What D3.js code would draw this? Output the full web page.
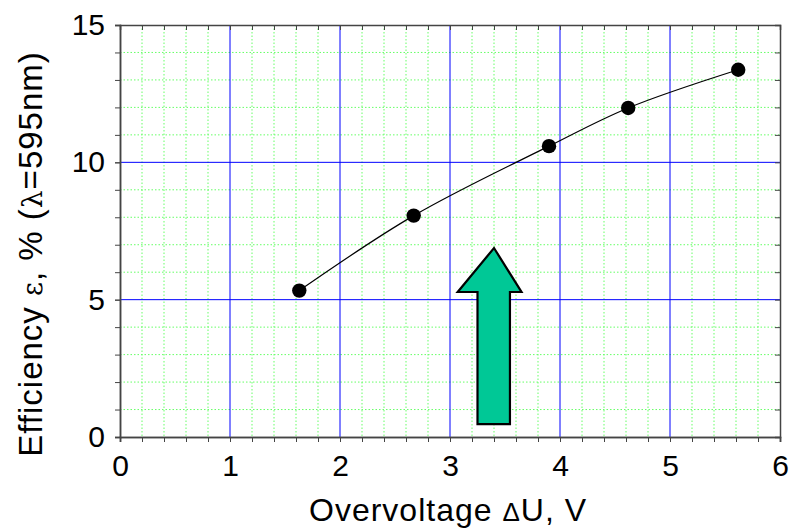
<!DOCTYPE html>
<html>
<head>
<meta charset="utf-8">
<script src="https://cdn.jsdelivr.net/npm/d3@7"></script>
<style>
  body { margin: 0; background: white; }
  text { font-family: "Liberation Sans", Arial, sans-serif; }
</style>
</head>
<body>
<div class="board"></div>
<script>
var W = 792, H = 531
var margin = { top: 25, right: 12, bottom: 94, left: 120 },
    width = W - margin.left - margin.right,
    height = H - margin.top - margin.bottom

// measured points
let voltage = [1.63, 2.67, 3.9, 4.62, 5.62]
let efficiency = [5.33, 8.06, 10.59, 11.98, 13.37]

let xTicks = [0, 1, 2, 3, 4, 5, 6]
let yTicks = [0, 5, 10, 15]

// arrow annotation (data units)
let arrowX = [3.07, 3.25, 3.545, 3.65, 3.4]
let arrowY = [0.47, 5.28, 6.88]

var svg = d3.select(".board")
    .append("svg")
    .attr("width", W)
    .attr("height", H)

var g = svg.append("g")
    .attr("transform", `translate(${margin.left}, ${margin.top})`)

let x = d3.scaleLinear().domain([0, 6]).range([0, width])
let y = d3.scaleLinear().domain([0, 15]).range([height, 0])

// minor grid
g.append("g").selectAll("line")
    .data(d3.range(0.2, 6, 0.2).filter(d => Math.abs(d - Math.round(d)) > 0.01))
    .enter().append("line")
    .attr("x1", d => x(d)).attr("x2", d => x(d))
    .attr("y1", 0).attr("y2", height)
    .attr("stroke", "#66ff66").attr("stroke-width", 1)
    .attr("stroke-dasharray", "1.5,2")

g.append("g").selectAll("line")
    .data(d3.range(1, 15).filter(d => d % 5 != 0))
    .enter().append("line")
    .attr("y1", d => y(d)).attr("y2", d => y(d))
    .attr("x1", 0).attr("x2", width)
    .attr("stroke", "#66ff66").attr("stroke-width", 1)
    .attr("stroke-dasharray", "1.5,2")

// major grid
g.append("g").selectAll("line")
    .data([1, 2, 3, 4, 5])
    .enter().append("line")
    .attr("x1", d => x(d)).attr("x2", d => x(d))
    .attr("y1", 0).attr("y2", height)
    .attr("stroke", "#0000ff").attr("stroke-width", 1)

g.append("g").selectAll("line")
    .data([5, 10])
    .enter().append("line")
    .attr("y1", d => y(d)).attr("y2", d => y(d))
    .attr("x1", 0).attr("x2", width)
    .attr("stroke", "#0000ff").attr("stroke-width", 1)

// axes
g.append("g")
    .attr("transform", `translate(0, ${height})`)
    .call(d3.axisBottom(x).tickValues(d3.range(0, 6.01, 0.2)).tickSize(5).tickFormat(""))
g.append("g")
    .attr("transform", `translate(0, ${height})`)
    .call(d3.axisBottom(x).tickValues(xTicks).tickSize(5).tickPadding(13).tickFormat(d3.format("d")))
g.append("g")
    .call(d3.axisTop(x).tickValues(d3.range(0, 6.01, 0.2)).tickSize(-5).tickFormat(""))

g.append("g")
    .call(d3.axisLeft(y).tickValues(d3.range(0, 15.01, 1)).tickSize(5).tickFormat(""))
g.append("g")
    .call(d3.axisLeft(y).tickValues(yTicks).tickSize(5).tickPadding(10).tickFormat(d3.format("d")))
g.append("g")
    .attr("transform", `translate(${width}, 0)`)
    .call(d3.axisRight(y).tickValues(d3.range(0, 15.01, 1)).tickSize(-5).tickFormat(""))

g.selectAll(".domain").attr("stroke", "#444").attr("stroke-width", 1.5)
g.selectAll(".tick line").attr("stroke", "#444")
g.selectAll(".tick text")
    .style("font-size", "30px")
    .style("font-family", "Liberation Sans, Arial, sans-serif")
    .attr("fill", "black")

// curve
let pts = voltage.map((v, i) => [x(v), y(efficiency[i])])
g.append("path")
    .attr("d", d3.line().curve(d3.curveCatmullRom)(pts))
    .attr("fill", "none")
    .attr("stroke", "black")
    .attr("stroke-width", 1.2)

g.selectAll(".pt")
    .data(pts)
    .enter().append("circle")
    .attr("cx", d => d[0]).attr("cy", d => d[1])
    .attr("r", 7.2)
    .attr("fill", "black")

// arrow
let arrowPts = [
    [arrowX[1], arrowY[0]], [arrowX[1], arrowY[1]], [arrowX[0], arrowY[1]],
    [arrowX[4], arrowY[2]], [arrowX[3], arrowY[1]], [arrowX[2], arrowY[1]],
    [arrowX[2], arrowY[0]]
]
g.append("path")
    .attr("d", d3.line().x(d => x(d[0])).y(d => y(d[1]))(arrowPts) + "Z")
    .attr("fill", "#00c896")
    .attr("stroke", "black")
    .attr("stroke-width", 2.2)
    .attr("stroke-linejoin", "miter")

// axis titles
let xt = svg.append("text")
    .attr("x", 448)
    .attr("y", 521)
    .attr("text-anchor", "middle")
    .style("font-size", "32px")
    .style("letter-spacing", "1px")
xt.append("tspan").text("Overvoltage ")
xt.append("tspan").style("font-size", "26px").text("Δ")
xt.append("tspan").text("U, V")

let yt = svg.append("text")
    .attr("transform", `translate(42, 254) rotate(-90)`)
    .attr("text-anchor", "middle")
    .style("font-size", "33px")
    .style("letter-spacing", "1px")
yt.append("tspan").text("Efficiency ")
yt.append("tspan").style("font-size", "27px").style("font-family", "DejaVu Serif, serif").text("ε")
yt.append("tspan").text(",  % (")
yt.append("tspan").style("font-size", "28px").style("font-family", "DejaVu Serif, serif").text("λ")
yt.append("tspan").text("=595nm)")
</script>
</body>
</html>
